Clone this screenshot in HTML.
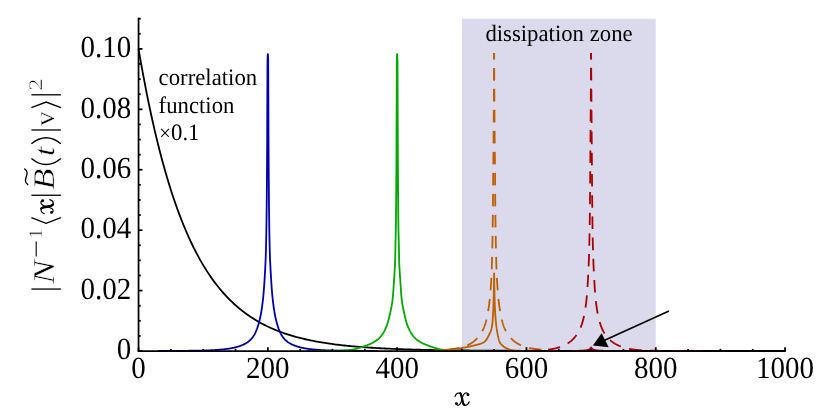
<!DOCTYPE html>
<html><head><meta charset="utf-8"><title>plot</title>
<style>
html,body{margin:0;padding:0;background:#fff;}
svg{display:block;will-change:transform;}
text{font-family:"Liberation Serif",serif;fill:#000;text-rendering:geometricPrecision;}
</style></head>
<body>
<svg width="831" height="416" viewBox="0 0 831 416">
<defs><g id="cmx" fill="none" stroke="#000" stroke-linecap="round" stroke-linejoin="round">
<path d="M0.4,-9.1 C1.2,-12.6 4.9,-13.9 6.4,-10.6 C7.2,-8.2 7.6,-4.6 8.3,-2.3 C9.2,0.7 12.9,0.7 14.5,-3.7" stroke-width="1.15"/>
<path d="M5.6,-12.3 C6.6,-11.3 7.2,-8.2 7.6,-5.6 C7.9,-3.6 8.2,-1.6 9.6,-0.6" stroke-width="2.3"/>
<path d="M1.5,-1.5 C3.0,0.9 5.5,-0.3 6.6,-4.0 L8.0,-8.8 C9.0,-12.6 12.0,-13.8 13.5,-11.2" stroke-width="1.1"/>
<circle cx="1.7" cy="-1.9" r="1.45" fill="#000" stroke="none"/>
<circle cx="13.3" cy="-10.8" r="1.45" fill="#000" stroke="none"/>
</g></defs>
<rect x="0" y="0" width="831" height="416" fill="#ffffff"/>
<rect x="462" y="18.8" width="193.7" height="332.2" fill="#dadaec"/>
<g fill="none" stroke-linejoin="round" stroke-linecap="butt">
<polyline points="138.55,48.90 140.17,58.28 141.79,67.36 143.41,76.16 145.03,84.69 146.65,92.96 148.27,100.96 149.89,108.72 151.51,116.24 153.13,123.53 154.75,130.59 156.37,137.43 157.99,144.05 159.61,150.48 161.23,156.70 162.85,162.73 164.47,168.57 166.10,174.23 167.72,179.72 169.34,185.04 170.96,190.19 172.58,195.18 174.20,200.01 175.82,204.70 177.44,209.24 179.06,213.64 180.68,217.90 182.30,222.03 183.92,226.03 185.54,229.91 187.16,233.67 188.78,237.31 190.40,240.84 192.02,244.26 193.64,247.57 195.26,250.78 196.88,253.89 198.50,256.90 200.12,259.82 201.74,262.65 203.36,265.39 204.98,268.05 206.60,270.63 208.22,273.12 209.84,275.54 211.46,277.88 213.08,280.15 214.70,282.35 216.32,284.48 217.94,286.54 219.57,288.54 221.19,290.48 222.81,292.36 224.43,294.18 226.05,295.94 227.67,297.65 229.29,299.31 230.91,300.91 232.53,302.46 234.15,303.97 235.77,305.43 237.39,306.84 239.01,308.22 240.63,309.54 242.25,310.83 243.87,312.08 245.49,313.28 247.11,314.45 248.73,315.59 250.35,316.69 251.97,317.75 253.59,318.78 255.21,319.78 256.83,320.75 258.45,321.69 260.07,322.60 261.69,323.48 263.31,324.34 264.93,325.16 266.55,325.97 268.17,326.74 269.79,327.50 271.41,328.22 273.03,328.93 274.66,329.62 276.28,330.28 277.90,330.92 279.52,331.55 281.14,332.15 282.76,332.73 284.38,333.30 286.00,333.85 287.62,334.38 289.24,334.90 290.86,335.40 292.48,335.88 294.10,336.35 295.72,336.81 297.34,337.25 298.96,337.67 300.58,338.09 302.20,338.49 303.82,338.88 305.44,339.25 307.06,339.62 308.68,339.97 310.30,340.31 311.92,340.64 313.54,340.97 315.16,341.28 316.78,341.58 318.40,341.87 320.02,342.15 321.64,342.43 323.26,342.69 324.88,342.95 326.50,343.20 328.13,343.44 329.75,343.68 331.37,343.91 332.99,344.13 334.61,344.34 336.23,344.55 337.85,344.75 339.47,344.94 341.09,345.13 342.71,345.31 344.33,345.49 345.95,345.66 347.57,345.82 349.19,345.98 350.81,346.14 352.43,346.29 354.05,346.44 355.67,346.58 357.29,346.72 358.91,346.85 360.53,346.98 362.15,347.10 363.77,347.22 365.39,347.34 367.01,347.45 368.63,347.56 370.25,347.67 371.87,347.77 373.49,347.87 375.11,347.97 376.73,348.07 378.35,348.16 379.97,348.24 381.60,348.33 383.22,348.41 384.84,348.49 386.46,348.57 388.08,348.65 389.70,348.72 391.32,348.79 392.94,348.86 394.56,348.93 396.18,348.99 397.80,349.05 399.42,349.11 401.04,349.17 402.66,349.23 404.28,349.28 405.90,349.34 407.52,349.39 409.14,349.44 410.76,349.49 412.38,349.53 414.00,349.58 415.62,349.62 417.24,349.67 418.86,349.71 420.48,349.75 422.10,349.79 423.72,349.82 425.34,349.86 426.96,349.90 428.58,349.93 430.20,349.96 431.82,350.00 433.44,350.03 435.07,350.06 436.69,350.09 438.31,350.11 439.93,350.14 441.55,350.17 443.17,350.19 444.79,350.22 446.41,350.24 448.03,350.27 449.65,350.29 451.27,350.31 452.89,350.33 454.51,350.35 456.13,350.37 457.75,350.39 459.37,350.41 460.99,350.43 462.61,350.45 464.23,350.47 465.85,350.48 467.47,350.50 469.09,350.51 470.71,350.53 472.33,350.54 473.95,350.56 475.57,350.57 477.19,350.58 478.81,350.60 480.43,350.61 482.05,350.62 483.67,350.63 485.29,350.65 486.91,350.66 488.53,350.67 490.16,350.68 491.78,350.69 493.40,350.70 495.02,350.71 496.64,350.72 498.26,350.72 499.88,350.73 501.50,350.74 503.12,350.75 504.74,350.76 506.36,350.76 507.98,350.77 509.60,350.78 511.22,350.79 512.84,350.79 514.46,350.80 516.08,350.80 517.70,350.81 519.32,350.82 520.94,350.82 522.56,350.83 524.18,350.83 525.80,350.84 527.42,350.84 529.04,350.85 530.66,350.85 532.28,350.86 533.90,350.86 535.52,350.87 537.14,350.87 538.76,350.87 540.38,350.88 542.00,350.88 543.63,350.89 545.25,350.89 546.87,350.89 548.49,350.90 550.11,350.90 551.73,350.90 553.35,350.91 554.97,350.91 556.59,350.91 558.21,350.91 559.83,350.92 561.45,350.92 563.07,350.92 564.69,350.92 566.31,350.93 567.93,350.93 569.55,350.93 571.17,350.93 572.79,350.94 574.41,350.94 576.03,350.94 577.65,350.94 579.27,350.94 580.89,350.94 582.51,350.95 584.13,350.95 585.75,350.95 587.37,350.95 588.99,350.95 590.61,350.95 592.23,350.96 593.85,350.96 595.47,350.96 597.10,350.96 598.72,350.96 600.34,350.96 601.96,350.96 603.58,350.96 605.20,350.97 606.82,350.97 608.44,350.97 610.06,350.97 611.68,350.97 613.30,350.97 614.92,350.97 616.54,350.97 618.16,350.97 619.78,350.97 621.40,350.97 623.02,350.98 624.64,350.98 626.26,350.98 627.88,350.98 629.50,350.98 631.12,350.98 632.74,350.98 634.36,350.98 635.98,350.98 637.60,350.98 639.22,350.98 640.84,350.98 642.46,350.98 644.08,350.98 645.70,350.98 647.32,350.98 648.94,350.99 650.57,350.99 652.19,350.99 653.81,350.99 655.43,350.99 657.05,350.99 658.67,350.99 660.29,350.99 661.91,350.99 663.53,350.99 665.15,350.99 666.77,350.99 668.39,350.99 670.01,350.99 671.63,350.99 673.25,350.99 674.87,350.99 676.49,350.99 678.11,350.99 679.73,350.99 681.35,350.99 682.97,350.99 684.59,350.99 686.21,350.99 687.83,350.99 689.45,350.99 691.07,350.99 692.69,350.99 694.31,350.99 695.93,350.99 697.55,350.99 699.17,350.99 700.79,350.99 702.41,350.99 704.03,350.99 705.66,351.00 707.28,351.00 708.90,351.00 710.52,351.00 712.14,351.00 713.76,351.00 715.38,351.00 717.00,351.00 718.62,351.00 720.24,351.00 721.86,351.00 723.48,351.00 725.10,351.00 726.72,351.00 728.34,351.00 729.96,351.00 731.58,351.00 733.20,351.00 734.82,351.00 736.44,351.00 738.06,351.00 739.68,351.00 741.30,351.00 742.92,351.00 744.54,351.00 746.16,351.00 747.78,351.00 749.40,351.00 751.02,351.00 752.64,351.00 754.26,351.00 755.88,351.00 757.50,351.00 759.13,351.00 760.75,351.00 762.37,351.00 763.99,351.00 765.61,351.00 767.23,351.00 768.85,351.00 770.47,351.00 772.09,351.00 773.71,351.00 775.33,351.00 776.95,351.00 778.57,351.00 780.19,351.00 781.81,351.00 783.43,351.00 785.05,351.00" stroke="#000" stroke-width="1.8"/>
<polyline points="157.85,350.94 158.34,350.94 158.83,350.94 159.32,350.94 159.82,350.94 160.31,350.93 160.80,350.93 161.29,350.93 161.78,350.93 162.27,350.93 162.76,350.93 163.26,350.93 163.75,350.92 164.24,350.92 164.73,350.92 165.22,350.92 165.71,350.92 166.20,350.92 166.70,350.92 167.19,350.91 167.68,350.91 168.17,350.91 168.66,350.91 169.15,350.91 169.64,350.90 170.14,350.90 170.63,350.90 171.12,350.90 171.61,350.90 172.10,350.89 172.59,350.89 173.09,350.89 173.58,350.89 174.07,350.88 174.56,350.88 175.05,350.88 175.54,350.88 176.03,350.87 176.53,350.87 177.02,350.87 177.51,350.87 178.00,350.86 178.49,350.86 178.98,350.86 179.47,350.85 179.97,350.85 180.46,350.85 180.95,350.84 181.44,350.84 181.93,350.84 182.42,350.83 182.91,350.83 183.41,350.82 183.90,350.82 184.39,350.81 184.88,350.81 185.37,350.81 185.86,350.80 186.35,350.80 186.85,350.79 187.34,350.79 187.83,350.78 188.32,350.78 188.81,350.77 189.30,350.76 189.79,350.76 190.29,350.75 190.78,350.75 191.27,350.74 191.76,350.73 192.25,350.73 192.74,350.72 193.23,350.71 193.73,350.71 194.22,350.70 194.71,350.69 195.20,350.68 195.69,350.68 196.18,350.67 196.68,350.66 197.17,350.65 197.66,350.64 198.15,350.63 198.64,350.62 199.13,350.61 199.62,350.60 200.12,350.59 200.61,350.58 201.10,350.57 201.59,350.56 202.08,350.54 202.57,350.53 203.06,350.52 203.56,350.51 204.05,350.49 204.54,350.48 205.03,350.46 205.52,350.45 206.01,350.43 206.50,350.41 207.00,350.40 207.49,350.38 207.98,350.36 208.47,350.34 208.96,350.32 209.45,350.30 209.94,350.28 210.44,350.26 210.93,350.24 211.42,350.21 211.91,350.19 212.40,350.16 212.89,350.14 213.38,350.11 213.88,350.08 214.37,350.06 214.86,350.03 215.35,350.00 215.84,349.96 216.33,349.93 216.82,349.90 217.32,349.86 217.81,349.83 218.30,349.79 218.79,349.75 219.28,349.71 219.77,349.67 220.27,349.63 220.76,349.59 221.25,349.55 221.74,349.50 222.23,349.45 222.72,349.40 223.21,349.35 223.71,349.30 224.20,349.25 224.69,349.19 225.18,349.14 225.67,349.08 226.16,349.02 226.65,348.95 227.15,348.89 227.64,348.82 228.13,348.75 228.62,348.68 229.11,348.60 229.60,348.52 230.09,348.44 230.59,348.36 231.08,348.27 231.57,348.18 232.06,348.09 232.55,347.99 233.04,347.89 233.53,347.79 234.03,347.68 234.52,347.57 235.01,347.45 235.50,347.33 235.99,347.20 236.48,347.07 236.97,346.93 237.47,346.79 237.96,346.64 238.45,346.49 238.94,346.33 239.43,346.16 239.92,345.99 240.41,345.81 240.91,345.62 241.40,345.43 241.89,345.23 242.38,345.02 242.87,344.81 243.36,344.59 243.86,344.35 244.35,344.11 244.84,343.86 245.33,343.59 245.82,343.31 246.31,343.02 246.80,342.71 247.30,342.39 247.79,342.05 248.28,341.69 248.77,341.31 249.26,340.90 249.75,340.48 250.24,340.02 250.74,339.54 251.23,339.02 251.72,338.47 252.21,337.87 252.70,337.23 253.19,336.54 253.68,335.79 254.18,334.98 254.67,334.10 255.16,333.15 255.65,332.12 255.85,331.68 255.95,331.45 256.05,331.22 256.15,330.99 256.25,330.75 256.35,330.51 256.45,330.27 256.55,330.02 256.65,329.77 256.75,329.51 256.85,329.25 256.95,328.98 257.05,328.72 257.15,328.44 257.25,328.16 257.35,327.88 257.45,327.60 257.55,327.30 257.65,327.01 257.75,326.71 257.85,326.40 257.95,326.09 258.05,325.77 258.15,325.45 258.25,325.13 258.35,324.80 258.45,324.46 258.55,324.12 258.65,323.77 258.75,323.42 258.85,323.06 258.95,322.70 259.05,322.33 259.15,321.95 259.25,321.57 259.35,321.17 259.45,320.78 259.55,320.37 259.65,319.96 259.75,319.53 259.85,319.10 259.95,318.67 260.05,318.22 260.15,317.76 260.25,317.30 260.35,316.82 260.45,316.33 260.55,315.84 260.65,315.33 260.75,314.81 260.85,314.28 260.95,313.74 261.05,313.19 261.15,312.62 261.25,312.04 261.35,311.45 261.45,310.84 261.55,310.22 261.65,309.58 261.75,308.93 261.85,308.26 261.95,307.58 262.05,306.87 262.15,306.15 262.25,305.41 262.35,304.65 262.45,303.88 262.55,303.08 262.65,302.26 262.75,301.41 262.85,300.55 262.95,299.65 263.05,298.72 263.15,297.76 263.25,296.75 263.35,295.71 263.45,294.63 263.55,293.51 263.65,292.35 263.75,291.14 263.85,289.90 263.95,288.61 264.05,287.27 264.15,285.90 264.25,284.47 264.35,282.99 264.45,281.47 264.55,279.90 264.65,278.28 264.75,276.60 264.85,274.87 264.90,273.99 264.95,273.11 265.00,272.23 265.05,271.33 265.10,270.43 265.15,269.51 265.20,268.58 265.25,267.63 265.30,266.65 265.35,265.65 265.40,264.62 265.45,263.55 265.50,262.45 265.55,261.31 265.60,260.12 265.65,258.88 265.70,257.58 265.75,256.23 265.80,254.81 265.85,253.32 265.90,251.75 265.95,250.10 266.00,248.32 266.05,246.37 266.10,244.25 266.15,241.98 266.20,239.54 266.25,236.94 266.30,234.18 266.35,231.28 266.40,228.22 266.45,225.02 266.50,221.60 266.55,217.87 266.60,213.83 266.65,209.49 266.70,204.86 266.75,199.95 266.80,194.77 266.85,189.31 266.90,183.48 266.95,177.23 267.00,170.47 267.05,163.10 267.10,155.03 267.15,146.02 267.20,135.14 267.25,122.77 267.30,109.78 267.35,97.24 267.40,83.63 267.45,70.07 267.50,62.49 267.55,60.23 267.60,58.32 267.65,56.77 267.70,55.56 267.75,54.71 267.80,54.20 267.85,54.04 267.90,54.20 267.95,54.71 268.00,55.56 268.05,56.77 268.10,58.32 268.15,60.23 268.20,62.49 268.25,70.07 268.30,83.63 268.35,97.24 268.40,109.78 268.45,122.77 268.50,135.14 268.55,146.02 268.60,155.03 268.65,163.10 268.70,170.47 268.75,177.23 268.80,183.48 268.85,189.31 268.90,194.77 268.95,199.95 269.00,204.86 269.05,209.49 269.10,213.83 269.15,217.87 269.20,221.60 269.25,225.02 269.30,228.22 269.35,231.28 269.40,234.18 269.45,236.94 269.50,239.54 269.55,241.98 269.60,244.25 269.65,246.37 269.70,248.32 269.75,250.10 269.80,251.75 269.85,253.32 269.90,254.81 269.95,256.23 270.00,257.58 270.05,258.88 270.10,260.12 270.15,261.31 270.20,262.45 270.25,263.55 270.30,264.62 270.35,265.65 270.40,266.65 270.45,267.63 270.50,268.58 270.55,269.51 270.60,270.43 270.65,271.33 270.70,272.23 270.75,273.11 270.80,273.99 270.85,274.87 270.95,276.60 271.05,278.28 271.15,279.90 271.25,281.47 271.35,282.99 271.45,284.47 271.55,285.90 271.65,287.27 271.75,288.61 271.85,289.90 271.95,291.14 272.05,292.35 272.15,293.51 272.25,294.63 272.35,295.71 272.45,296.75 272.55,297.76 272.65,298.72 272.75,299.65 272.85,300.55 272.95,301.41 273.05,302.26 273.15,303.08 273.25,303.88 273.35,304.65 273.45,305.41 273.55,306.15 273.65,306.87 273.75,307.58 273.85,308.26 273.95,308.93 274.05,309.58 274.15,310.22 274.25,310.84 274.35,311.45 274.45,312.04 274.55,312.62 274.65,313.19 274.75,313.74 274.85,314.28 274.95,314.81 275.05,315.33 275.15,315.84 275.25,316.33 275.35,316.82 275.45,317.30 275.55,317.76 275.65,318.22 275.75,318.67 275.85,319.10 275.95,319.53 276.05,319.96 276.15,320.37 276.25,320.78 276.35,321.17 276.45,321.57 276.55,321.95 276.65,322.33 276.75,322.70 276.85,323.06 276.95,323.42 277.05,323.77 277.15,324.12 277.25,324.46 277.35,324.80 277.45,325.13 277.55,325.45 277.65,325.77 277.75,326.09 277.85,326.40 277.95,326.71 278.05,327.01 278.15,327.30 278.25,327.60 278.35,327.88 278.45,328.16 278.55,328.44 278.65,328.72 278.75,328.98 278.85,329.25 278.95,329.51 279.05,329.77 279.15,330.02 279.25,330.27 279.35,330.51 279.45,330.75 279.55,330.99 279.65,331.22 279.75,331.45 279.85,331.68 280.05,332.12 280.54,333.15 281.03,334.10 281.52,334.98 282.02,335.79 282.51,336.54 283.00,337.23 283.49,337.87 283.98,338.47 284.47,339.02 284.96,339.54 285.46,340.02 285.95,340.48 286.44,340.90 286.93,341.31 287.42,341.69 287.91,342.05 288.40,342.39 288.90,342.71 289.39,343.02 289.88,343.31 290.37,343.59 290.86,343.86 291.35,344.11 291.84,344.35 292.34,344.59 292.83,344.81 293.32,345.02 293.81,345.23 294.30,345.43 294.79,345.62 295.29,345.81 295.78,345.99 296.27,346.16 296.76,346.33 297.25,346.49 297.74,346.64 298.23,346.79 298.73,346.93 299.22,347.07 299.71,347.20 300.20,347.33 300.69,347.45 301.18,347.57 301.67,347.68 302.17,347.79 302.66,347.89 303.15,347.99 303.64,348.09 304.13,348.18 304.62,348.27 305.11,348.36 305.61,348.44 306.10,348.52 306.59,348.60 307.08,348.68 307.57,348.75 308.06,348.82 308.55,348.89 309.05,348.95 309.54,349.02 310.03,349.08 310.52,349.14 311.01,349.19 311.50,349.25 311.99,349.30 312.49,349.35 312.98,349.40 313.47,349.45 313.96,349.50 314.45,349.55 314.94,349.59 315.43,349.63 315.93,349.67 316.42,349.71 316.91,349.75 317.40,349.79 317.89,349.83 318.38,349.86 318.88,349.90 319.37,349.93 319.86,349.96 320.35,350.00 320.84,350.03 321.33,350.06 321.82,350.08 322.32,350.11 322.81,350.14 323.30,350.16 323.79,350.19 324.28,350.21 324.77,350.24 325.26,350.26 325.76,350.28 326.25,350.30 326.74,350.32 327.23,350.34 327.72,350.36 328.21,350.38 328.70,350.40 329.20,350.41 329.69,350.43 330.18,350.45 330.67,350.46 331.16,350.48 331.65,350.49 332.14,350.51 332.64,350.52 333.13,350.53 333.62,350.54 334.11,350.56 334.60,350.57 335.09,350.58 335.58,350.59 336.08,350.60 336.57,350.61 337.06,350.62 337.55,350.63 338.04,350.64 338.53,350.65 339.02,350.66 339.52,350.67 340.01,350.68 340.50,350.68 340.99,350.69 341.48,350.70 341.97,350.71 342.47,350.71 342.96,350.72 343.45,350.73 343.94,350.73 344.43,350.74 344.92,350.75 345.41,350.75 345.91,350.76 346.40,350.76 346.89,350.77 347.38,350.78 347.87,350.78 348.36,350.79 348.85,350.79 349.35,350.80 349.84,350.80 350.33,350.81 350.82,350.81 351.31,350.81 351.80,350.82 352.29,350.82 352.79,350.83 353.28,350.83 353.77,350.84 354.26,350.84 354.75,350.84 355.24,350.85 355.73,350.85 356.23,350.85 356.72,350.86 357.21,350.86 357.70,350.86 358.19,350.87 358.68,350.87 359.17,350.87 359.67,350.87 360.16,350.88 360.65,350.88 361.14,350.88 361.63,350.88 362.12,350.89 362.61,350.89 363.11,350.89 363.60,350.89 364.09,350.90 364.58,350.90 365.07,350.90 365.56,350.90 366.06,350.90 366.55,350.91 367.04,350.91 367.53,350.91 368.02,350.91 368.51,350.91 369.00,350.92 369.50,350.92 369.99,350.92 370.48,350.92 370.97,350.92 371.46,350.92 371.95,350.92 372.44,350.93 372.94,350.93 373.43,350.93 373.92,350.93 374.41,350.93 374.90,350.93 375.39,350.93 375.88,350.94 376.38,350.94 376.87,350.94 377.36,350.94 377.85,350.94" stroke="#0000aa" stroke-width="1.8"/>
<polyline points="307.15,350.97 307.54,350.97 307.93,350.97 308.32,350.97 308.71,350.97 309.10,350.97 309.50,350.96 309.89,350.96 310.28,350.96 310.67,350.96 311.06,350.96 311.45,350.96 311.84,350.96 312.23,350.96 312.62,350.96 313.01,350.96 313.41,350.95 313.80,350.95 314.19,350.95 314.58,350.95 314.97,350.95 315.36,350.95 315.75,350.95 316.14,350.94 316.53,350.94 316.92,350.94 317.31,350.94 317.71,350.94 318.10,350.94 318.49,350.93 318.88,350.93 319.27,350.93 319.66,350.93 320.05,350.93 320.44,350.92 320.83,350.92 321.22,350.92 321.62,350.92 322.01,350.91 322.40,350.91 322.79,350.91 323.18,350.91 323.57,350.90 323.96,350.90 324.35,350.90 324.74,350.89 325.13,350.89 325.52,350.89 325.92,350.88 326.31,350.88 326.70,350.88 327.09,350.87 327.48,350.87 327.87,350.86 328.26,350.86 328.65,350.85 329.04,350.85 329.43,350.84 329.83,350.84 330.22,350.83 330.61,350.83 331.00,350.82 331.39,350.82 331.78,350.81 332.17,350.80 332.56,350.80 332.95,350.79 333.34,350.78 333.73,350.78 334.13,350.77 334.52,350.76 334.91,350.75 335.30,350.74 335.69,350.73 336.08,350.72 336.47,350.72 336.86,350.71 337.25,350.70 337.64,350.68 338.04,350.67 338.43,350.66 338.82,350.65 339.21,350.64 339.60,350.62 339.99,350.61 340.38,350.59 340.77,350.58 341.16,350.56 341.55,350.55 341.94,350.53 342.34,350.51 342.73,350.49 343.12,350.47 343.51,350.45 343.90,350.43 344.29,350.41 344.68,350.38 345.07,350.36 345.46,350.33 345.85,350.31 346.25,350.28 346.64,350.25 347.03,350.22 347.42,350.19 347.81,350.15 348.20,350.12 348.59,350.08 348.98,350.04 349.37,350.00 349.76,349.96 350.16,349.91 350.55,349.87 350.94,349.82 351.33,349.77 351.72,349.71 352.11,349.66 352.50,349.59 352.89,349.53 353.28,349.46 353.67,349.38 354.06,349.30 354.46,349.22 354.85,349.13 355.24,349.04 355.63,348.95 356.02,348.85 356.41,348.75 356.80,348.65 357.19,348.54 357.58,348.44 357.97,348.33 358.37,348.22 358.76,348.11 359.15,348.00 359.54,347.88 359.93,347.76 360.32,347.63 360.71,347.50 361.10,347.37 361.49,347.24 361.88,347.10 362.27,346.97 362.67,346.82 363.06,346.68 363.45,346.54 363.84,346.39 364.23,346.24 364.62,346.10 365.01,345.95 365.40,345.80 365.79,345.65 366.18,345.50 366.58,345.36 366.97,345.21 367.36,345.06 367.75,344.92 368.14,344.77 368.53,344.62 368.92,344.47 369.31,344.32 369.70,344.16 370.09,344.01 370.48,343.85 370.88,343.68 371.27,343.51 371.66,343.33 372.05,343.15 372.44,342.95 372.83,342.75 373.22,342.54 373.61,342.32 374.00,342.09 374.39,341.85 374.79,341.61 375.18,341.36 375.57,341.10 375.96,340.83 376.35,340.55 376.74,340.26 377.13,339.96 377.52,339.65 377.91,339.33 378.30,338.99 378.69,338.64 379.09,338.27 379.48,337.89 379.87,337.48 380.26,337.06 380.65,336.61 381.04,336.15 381.43,335.65 381.82,335.14 382.21,334.59 382.60,334.02 383.00,333.41 383.39,332.77 383.78,332.10 384.17,331.39 384.56,330.64 384.95,329.85 385.15,329.43 385.25,329.21 385.35,328.99 385.45,328.77 385.55,328.55 385.65,328.32 385.75,328.09 385.85,327.85 385.95,327.62 386.05,327.38 386.15,327.13 386.25,326.88 386.35,326.63 386.45,326.38 386.55,326.12 386.65,325.86 386.75,325.59 386.85,325.32 386.95,325.05 387.05,324.77 387.15,324.49 387.25,324.20 387.35,323.91 387.45,323.61 387.55,323.31 387.65,323.00 387.75,322.68 387.85,322.35 387.95,322.02 388.05,321.68 388.15,321.33 388.25,320.98 388.35,320.61 388.45,320.25 388.55,319.87 388.65,319.49 388.75,319.10 388.85,318.71 388.95,318.31 389.05,317.90 389.15,317.49 389.25,317.07 389.35,316.65 389.45,316.22 389.55,315.78 389.65,315.34 389.75,314.90 389.85,314.45 389.95,313.99 390.05,313.53 390.15,313.06 390.25,312.59 390.35,312.12 390.45,311.65 390.55,311.18 390.65,310.71 390.75,310.25 390.85,309.78 390.95,309.31 391.05,308.84 391.15,308.37 391.25,307.88 391.35,307.39 391.45,306.88 391.55,306.36 391.65,305.83 391.75,305.27 391.85,304.70 391.95,304.09 392.05,303.47 392.15,302.81 392.25,302.12 392.35,301.39 392.45,300.63 392.55,299.82 392.65,298.93 392.75,297.96 392.85,296.92 392.95,295.80 393.05,294.61 393.15,293.35 393.25,292.03 393.35,290.66 393.45,289.23 393.55,287.76 393.65,286.25 393.75,284.71 393.85,283.15 393.95,281.58 394.05,280.01 394.15,278.49 394.20,277.76 394.25,277.04 394.30,276.34 394.35,275.64 394.40,274.94 394.45,274.23 394.50,273.51 394.55,272.78 394.60,272.02 394.65,271.23 394.70,270.40 394.75,269.53 394.80,268.61 394.85,267.64 394.90,266.59 394.95,265.47 395.00,264.27 395.05,262.98 395.10,261.58 395.15,260.07 395.20,258.08 395.25,255.49 395.30,252.69 395.35,250.10 395.40,247.84 395.45,245.73 395.50,243.72 395.55,241.77 395.60,239.82 395.65,237.83 395.70,235.73 395.75,233.47 395.80,230.98 395.85,228.19 395.90,225.02 395.95,221.23 396.00,216.69 396.05,211.53 396.10,205.89 396.15,199.95 396.20,193.71 396.25,186.99 396.30,179.74 396.35,171.86 396.40,163.26 396.45,153.83 396.50,143.22 396.55,130.69 396.60,116.86 396.65,102.72 396.70,88.13 396.75,71.89 396.80,62.49 396.85,60.17 396.90,58.23 396.95,56.68 397.00,55.50 397.05,54.68 397.10,54.19 397.15,54.04 397.20,54.19 397.25,54.68 397.30,55.50 397.35,56.68 397.40,58.23 397.45,60.17 397.50,62.49 397.55,71.89 397.60,88.13 397.65,102.72 397.70,116.86 397.75,130.69 397.80,143.22 397.85,153.83 397.90,163.26 397.95,171.86 398.00,179.74 398.05,186.99 398.10,193.71 398.15,199.95 398.20,205.89 398.25,211.53 398.30,216.69 398.35,221.23 398.40,225.02 398.45,228.19 398.50,230.98 398.55,233.47 398.60,235.73 398.65,237.83 398.70,239.82 398.75,241.77 398.80,243.72 398.85,245.73 398.90,247.84 398.95,250.10 399.00,252.69 399.05,255.49 399.10,258.08 399.15,260.07 399.20,261.58 399.25,262.98 399.30,264.27 399.35,265.47 399.40,266.59 399.45,267.64 399.50,268.61 399.55,269.53 399.60,270.40 399.65,271.23 399.70,272.02 399.75,272.78 399.80,273.51 399.85,274.23 399.90,274.94 399.95,275.64 400.00,276.34 400.05,277.04 400.10,277.76 400.15,278.49 400.25,280.01 400.35,281.58 400.45,283.15 400.55,284.71 400.65,286.25 400.75,287.76 400.85,289.23 400.95,290.66 401.05,292.03 401.15,293.35 401.25,294.61 401.35,295.80 401.45,296.92 401.55,297.96 401.65,298.93 401.75,299.82 401.85,300.63 401.95,301.39 402.05,302.12 402.15,302.81 402.25,303.47 402.35,304.09 402.45,304.70 402.55,305.27 402.65,305.83 402.75,306.36 402.85,306.88 402.95,307.39 403.05,307.88 403.15,308.37 403.25,308.84 403.35,309.31 403.45,309.78 403.55,310.25 403.65,310.71 403.75,311.18 403.85,311.65 403.95,312.12 404.05,312.59 404.15,313.06 404.25,313.53 404.35,313.99 404.45,314.45 404.55,314.90 404.65,315.34 404.75,315.78 404.85,316.22 404.95,316.65 405.05,317.07 405.15,317.49 405.25,317.90 405.35,318.31 405.45,318.71 405.55,319.10 405.65,319.49 405.75,319.87 405.85,320.25 405.95,320.61 406.05,320.98 406.15,321.33 406.25,321.68 406.35,322.02 406.45,322.35 406.55,322.68 406.65,323.00 406.75,323.31 406.85,323.61 406.95,323.91 407.05,324.20 407.15,324.49 407.25,324.77 407.35,325.05 407.45,325.32 407.55,325.59 407.65,325.86 407.75,326.12 407.85,326.38 407.95,326.63 408.05,326.88 408.15,327.13 408.25,327.38 408.35,327.62 408.45,327.85 408.55,328.09 408.65,328.32 408.75,328.55 408.85,328.77 408.95,328.99 409.05,329.21 409.15,329.43 409.35,329.85 409.74,330.64 410.13,331.39 410.52,332.10 410.91,332.77 411.30,333.41 411.70,334.02 412.09,334.59 412.48,335.14 412.87,335.65 413.26,336.15 413.65,336.61 414.04,337.06 414.43,337.48 414.82,337.89 415.21,338.27 415.61,338.64 416.00,338.99 416.39,339.33 416.78,339.65 417.17,339.96 417.56,340.26 417.95,340.55 418.34,340.83 418.73,341.10 419.12,341.36 419.51,341.61 419.91,341.85 420.30,342.09 420.69,342.32 421.08,342.54 421.47,342.75 421.86,342.95 422.25,343.15 422.64,343.33 423.03,343.51 423.42,343.68 423.82,343.85 424.21,344.01 424.60,344.16 424.99,344.32 425.38,344.47 425.77,344.62 426.16,344.77 426.55,344.92 426.94,345.06 427.33,345.21 427.72,345.36 428.12,345.50 428.51,345.65 428.90,345.80 429.29,345.95 429.68,346.10 430.07,346.24 430.46,346.39 430.85,346.54 431.24,346.68 431.63,346.82 432.03,346.97 432.42,347.10 432.81,347.24 433.20,347.37 433.59,347.50 433.98,347.63 434.37,347.76 434.76,347.88 435.15,348.00 435.54,348.11 435.93,348.22 436.33,348.33 436.72,348.44 437.11,348.54 437.50,348.65 437.89,348.75 438.28,348.85 438.67,348.95 439.06,349.04 439.45,349.13 439.84,349.22 440.24,349.30 440.63,349.38 441.02,349.46 441.41,349.53 441.80,349.59 442.19,349.66 442.58,349.71 442.97,349.77 443.36,349.82 443.75,349.87 444.14,349.91 444.54,349.96 444.93,350.00 445.32,350.04 445.71,350.08 446.10,350.12 446.49,350.15 446.88,350.19 447.27,350.22 447.66,350.25 448.05,350.28 448.45,350.31 448.84,350.33 449.23,350.36 449.62,350.38 450.01,350.41 450.40,350.43 450.79,350.45 451.18,350.47 451.57,350.49 451.96,350.51 452.36,350.53 452.75,350.55 453.14,350.56 453.53,350.58 453.92,350.59 454.31,350.61 454.70,350.62 455.09,350.64 455.48,350.65 455.87,350.66 456.26,350.67 456.66,350.68 457.05,350.70 457.44,350.71 457.83,350.72 458.22,350.72 458.61,350.73 459.00,350.74 459.39,350.75 459.78,350.76 460.17,350.77 460.57,350.78 460.96,350.78 461.35,350.79 461.74,350.80 462.13,350.80 462.52,350.81 462.91,350.82 463.30,350.82 463.69,350.83 464.08,350.83 464.47,350.84 464.87,350.84 465.26,350.85 465.65,350.85 466.04,350.86 466.43,350.86 466.82,350.87 467.21,350.87 467.60,350.88 467.99,350.88 468.38,350.88 468.78,350.89 469.17,350.89 469.56,350.89 469.95,350.90 470.34,350.90 470.73,350.90 471.12,350.91 471.51,350.91 471.90,350.91 472.29,350.91 472.68,350.92 473.08,350.92 473.47,350.92 473.86,350.92 474.25,350.93 474.64,350.93 475.03,350.93 475.42,350.93 475.81,350.93 476.20,350.94 476.59,350.94 476.99,350.94 477.38,350.94 477.77,350.94 478.16,350.94 478.55,350.95 478.94,350.95 479.33,350.95 479.72,350.95 480.11,350.95 480.50,350.95 480.89,350.95 481.29,350.96 481.68,350.96 482.07,350.96 482.46,350.96 482.85,350.96 483.24,350.96 483.63,350.96 484.02,350.96 484.41,350.96 484.80,350.96 485.20,350.97 485.59,350.97 485.98,350.97 486.37,350.97 486.76,350.97 487.15,350.97" stroke="#00aa00" stroke-width="1.8"/>
<polyline points="494.12,52.98 494.07,63.15 494.02,72.75 493.98,81.82 493.93,90.39 493.88,98.49 493.82,106.16 493.77,113.43 493.73,120.31 493.68,126.84 493.62,133.03 493.57,138.91 493.52,144.49 493.48,149.80 493.43,154.48 493.38,158.49 493.32,162.25 493.27,166.14 493.23,170.55 493.18,175.78 493.12,183.40 493.07,192.47 493.02,199.95 492.98,205.35 492.93,210.05 492.88,214.21 492.82,218.00 492.77,221.57 492.73,225.02 492.68,228.39 492.62,231.61 492.57,234.67 492.52,237.58 492.48,240.36 492.43,242.99 492.38,245.49 492.32,247.86 492.27,250.10 492.23,252.24 492.18,254.32 492.12,256.33 492.07,258.26 492.02,260.13 491.98,261.93 491.93,263.66 491.88,265.31 491.82,266.89 491.77,268.40 491.73,269.84 491.68,271.21 491.62,272.50 491.57,273.72 491.52,274.87 491.48,275.95 491.43,276.96 491.38,277.91 491.32,278.81 491.27,279.68 491.23,280.51 491.18,281.31 491.12,282.09 491.02,283.63 490.93,285.14 490.82,286.61 490.73,288.03 490.62,289.40 490.52,290.74 490.43,292.02 490.32,293.26 490.23,294.44 490.12,295.59 490.02,296.68 489.93,297.72 489.82,298.71 489.73,299.66 489.62,300.55 489.52,301.41 489.43,302.24 489.32,303.06 489.23,303.85 489.12,304.62 489.02,305.37 488.93,306.11 488.82,306.82 488.73,307.52 488.62,308.20 488.52,308.86 488.43,309.51 488.32,310.14 488.23,310.76 488.12,311.36 488.02,311.94 487.93,312.52 487.82,313.08 487.73,313.62 487.62,314.16 487.52,314.68 487.43,315.19 487.32,315.69 487.23,316.17 487.12,316.65 487.02,317.11 486.93,317.57 486.82,318.01 486.73,318.45 486.62,318.87 486.52,319.29 486.43,319.70 486.32,320.10 486.23,320.49 486.12,320.87 486.02,321.24 485.93,321.61 485.82,321.97 485.73,322.32 485.62,322.67 485.52,323.01 485.43,323.34 485.32,323.66 485.23,323.98 485.12,324.30 485.02,324.60 484.93,324.90 484.82,325.20 484.73,325.49 484.62,325.77 484.52,326.05 484.43,326.33 484.32,326.60 484.23,326.86 484.12,327.12 484.02,327.37 483.93,327.62 483.82,327.87 483.73,328.11 483.62,328.34 483.52,328.58 483.43,328.80 483.32,329.03 483.23,329.25 483.12,329.46 483.02,329.68 482.93,329.88 482.82,330.09 482.73,330.29 482.62,330.49 482.52,330.69 482.43,330.88 482.32,331.07 482.23,331.26 482.12,331.44 481.93,331.80 481.68,332.22 481.44,332.62 481.20,333.01 480.96,333.39 480.72,333.76 480.48,334.12 480.24,334.46 480.00,334.80 479.76,335.13 479.52,335.45 479.28,335.76 479.04,336.07 478.80,336.37 478.56,336.66 478.32,336.95 478.08,337.23 477.84,337.51 477.60,337.78 477.36,338.05 477.12,338.32 476.88,338.58 476.64,338.83 476.40,339.08 476.16,339.32 475.92,339.56 475.68,339.79 475.44,340.02 475.20,340.24 474.96,340.45 474.72,340.66 474.48,340.87 474.24,341.07 474.00,341.27 473.76,341.46 473.52,341.65 473.28,341.84 473.04,342.02 472.80,342.19 472.56,342.36 472.32,342.53 472.08,342.70 471.84,342.86 471.60,343.01 471.36,343.17 471.12,343.32 470.88,343.47 470.64,343.61 470.40,343.75 470.16,343.89 469.91,344.03 469.67,344.16 469.43,344.29 469.19,344.41 468.95,344.54 468.71,344.66 468.47,344.78 468.23,344.90 467.99,345.01 467.75,345.12 467.51,345.23 467.27,345.34 467.03,345.44 466.79,345.55 466.55,345.65 466.31,345.74 466.07,345.84 465.83,345.94 465.59,346.03 465.35,346.12 465.11,346.21 464.87,346.29 464.63,346.38 464.39,346.46 464.15,346.54 463.91,346.62 463.67,346.69 463.43,346.77 463.19,346.84 462.95,346.91 462.71,346.98 462.47,347.05 462.23,347.12 461.99,347.18 461.75,347.25 461.51,347.31 461.27,347.37 461.03,347.43 460.79,347.49 460.55,347.55 460.31,347.60 460.07,347.66 459.83,347.72 459.59,347.77 459.35,347.82 459.11,347.87 458.87,347.93 458.63,347.98 458.39,348.03 458.15,348.07 457.90,348.12 457.66,348.17 457.42,348.21 457.18,348.26 456.94,348.31 456.70,348.35 456.46,348.39 456.22,348.44 455.98,348.48 455.74,348.52 455.50,348.56 455.26,348.60 455.02,348.64 454.78,348.68 454.54,348.72 454.30,348.76 454.06,348.80 453.82,348.84 453.58,348.87 453.34,348.91 453.10,348.95 452.86,348.98 452.62,349.02 452.38,349.05 452.14,349.09 451.90,349.12 451.66,349.15 451.42,349.19 451.18,349.22 450.94,349.25 450.70,349.29 450.46,349.32 450.22,349.35 449.98,349.38 449.74,349.41 449.50,349.44 449.26,349.47 449.02,349.50 448.78,349.53 448.54,349.56 448.30,349.59 448.06,349.62 447.82,349.65 447.58,349.67 447.34,349.70 447.10,349.73 446.86,349.75 446.62,349.78 446.38,349.80 446.14,349.83 445.89,349.85 445.65,349.88 445.41,349.90 445.17,349.93 444.93,349.95 444.69,349.97 444.45,349.99 444.21,350.01 443.97,350.04 443.73,350.06 443.49,350.08 443.25,350.10 443.01,350.12 442.77,350.14 442.53,350.16 442.29,350.18 442.05,350.19 441.81,350.21 441.57,350.23 441.33,350.25 441.09,350.27 440.85,350.28 440.61,350.30 440.37,350.31 440.13,350.33 439.89,350.35 439.65,350.36 439.41,350.38 439.17,350.39 438.93,350.41 438.69,350.42 438.45,350.43 438.21,350.45 437.97,350.46 437.73,350.47 437.49,350.49 437.25,350.50 437.01,350.51 436.77,350.52 436.53,350.53 436.29,350.55 436.05,350.56 435.81,350.57 435.57,350.58 435.33,350.59 435.09,350.60 434.85,350.61 434.61,350.62 434.37,350.63 434.12,350.64" stroke="#bf5f00" stroke-width="1.8" stroke-dasharray="12.5,8.5" stroke-dashoffset="6.1"/>
<polyline points="494.12,52.98 494.18,63.15 494.23,72.75 494.27,81.82 494.32,90.39 494.38,98.49 494.43,106.16 494.48,113.43 494.52,120.31 494.57,126.84 494.62,133.03 494.68,138.91 494.73,144.49 494.77,149.80 494.82,154.48 494.88,158.49 494.93,162.25 494.98,166.14 495.02,170.55 495.07,175.78 495.12,183.40 495.18,192.47 495.23,199.95 495.27,205.35 495.32,210.05 495.38,214.21 495.43,218.00 495.48,221.57 495.52,225.02 495.57,228.39 495.62,231.61 495.68,234.67 495.73,237.58 495.77,240.36 495.82,242.99 495.88,245.49 495.93,247.86 495.98,250.10 496.02,252.24 496.07,254.32 496.12,256.33 496.18,258.26 496.23,260.13 496.27,261.93 496.32,263.66 496.38,265.31 496.43,266.89 496.48,268.40 496.52,269.84 496.57,271.21 496.62,272.50 496.68,273.72 496.73,274.87 496.77,275.95 496.82,276.96 496.88,277.91 496.93,278.81 496.98,279.68 497.02,280.51 497.07,281.31 497.12,282.09 497.23,283.63 497.32,285.14 497.43,286.61 497.52,288.03 497.62,289.40 497.73,290.74 497.82,292.02 497.93,293.26 498.02,294.44 498.12,295.59 498.23,296.68 498.32,297.72 498.43,298.71 498.52,299.66 498.62,300.55 498.73,301.41 498.82,302.24 498.93,303.06 499.02,303.85 499.12,304.62 499.23,305.37 499.32,306.11 499.43,306.82 499.52,307.52 499.62,308.20 499.73,308.86 499.82,309.51 499.93,310.14 500.02,310.76 500.12,311.36 500.23,311.94 500.32,312.52 500.43,313.08 500.52,313.62 500.62,314.16 500.73,314.68 500.82,315.19 500.93,315.69 501.02,316.17 501.12,316.65 501.23,317.11 501.32,317.57 501.43,318.01 501.52,318.45 501.62,318.87 501.73,319.29 501.82,319.70 501.93,320.10 502.02,320.49 502.12,320.87 502.23,321.24 502.32,321.61 502.43,321.97 502.52,322.32 502.62,322.67 502.73,323.01 502.82,323.34 502.93,323.66 503.02,323.98 503.12,324.30 503.23,324.60 503.32,324.90 503.43,325.20 503.52,325.49 503.62,325.77 503.73,326.05 503.82,326.33 503.93,326.60 504.02,326.86 504.12,327.12 504.23,327.37 504.32,327.62 504.43,327.87 504.52,328.11 504.62,328.34 504.73,328.58 504.82,328.80 504.93,329.03 505.02,329.25 505.12,329.46 505.23,329.68 505.32,329.88 505.43,330.09 505.52,330.29 505.62,330.49 505.73,330.69 505.82,330.88 505.93,331.07 506.02,331.26 506.12,331.44 506.32,331.80 506.57,332.22 506.81,332.62 507.05,333.01 507.29,333.39 507.53,333.76 507.77,334.12 508.01,334.46 508.25,334.80 508.49,335.13 508.73,335.45 508.97,335.76 509.21,336.07 509.45,336.37 509.69,336.66 509.93,336.95 510.17,337.23 510.41,337.51 510.65,337.78 510.89,338.05 511.13,338.32 511.37,338.58 511.61,338.83 511.85,339.08 512.09,339.32 512.33,339.56 512.57,339.79 512.81,340.02 513.05,340.24 513.29,340.45 513.53,340.66 513.77,340.87 514.01,341.07 514.25,341.27 514.49,341.46 514.73,341.65 514.97,341.84 515.21,342.02 515.45,342.19 515.69,342.36 515.93,342.53 516.17,342.70 516.41,342.86 516.65,343.01 516.89,343.17 517.13,343.32 517.37,343.47 517.61,343.61 517.85,343.75 518.09,343.89 518.34,344.03 518.58,344.16 518.82,344.29 519.06,344.41 519.30,344.54 519.54,344.66 519.78,344.78 520.02,344.90 520.26,345.01 520.50,345.12 520.74,345.23 520.98,345.34 521.22,345.44 521.46,345.55 521.70,345.65 521.94,345.74 522.18,345.84 522.42,345.94 522.66,346.03 522.90,346.12 523.14,346.21 523.38,346.29 523.62,346.38 523.86,346.46 524.10,346.54 524.34,346.62 524.58,346.69 524.82,346.77 525.06,346.84 525.30,346.91 525.54,346.98 525.78,347.05 526.02,347.12 526.26,347.18 526.50,347.25 526.74,347.31 526.98,347.37 527.22,347.43 527.46,347.49 527.70,347.55 527.94,347.60 528.18,347.66 528.42,347.72 528.66,347.77 528.90,347.82 529.14,347.87 529.38,347.93 529.62,347.98 529.86,348.03 530.10,348.07 530.35,348.12 530.59,348.17 530.83,348.21 531.07,348.26 531.31,348.31 531.55,348.35 531.79,348.39 532.03,348.44 532.27,348.48 532.51,348.52 532.75,348.56 532.99,348.60 533.23,348.64 533.47,348.68 533.71,348.72 533.95,348.76 534.19,348.80 534.43,348.84 534.67,348.87 534.91,348.91 535.15,348.95 535.39,348.98 535.63,349.02 535.87,349.05 536.11,349.09 536.35,349.12 536.59,349.15 536.83,349.19 537.07,349.22 537.31,349.25 537.55,349.29 537.79,349.32 538.03,349.35 538.27,349.38 538.51,349.41 538.75,349.44 538.99,349.47 539.23,349.50 539.47,349.53 539.71,349.56 539.95,349.59 540.19,349.62 540.43,349.65 540.67,349.67 540.91,349.70 541.15,349.73 541.39,349.75 541.63,349.78 541.87,349.80 542.11,349.83 542.36,349.85 542.60,349.88 542.84,349.90 543.08,349.93 543.32,349.95 543.56,349.97 543.80,349.99 544.04,350.01 544.28,350.04 544.52,350.06 544.76,350.08 545.00,350.10 545.24,350.12 545.48,350.14 545.72,350.16 545.96,350.18 546.20,350.19 546.44,350.21 546.68,350.23 546.92,350.25 547.16,350.27 547.40,350.28 547.64,350.30 547.88,350.31 548.12,350.33 548.36,350.35 548.60,350.36 548.84,350.38 549.08,350.39 549.32,350.41 549.56,350.42 549.80,350.43 550.04,350.45 550.28,350.46 550.52,350.47 550.76,350.49 551.00,350.50 551.24,350.51 551.48,350.52 551.72,350.53 551.96,350.55 552.20,350.56 552.44,350.57 552.68,350.58 552.92,350.59 553.16,350.60 553.40,350.61 553.64,350.62 553.88,350.63 554.12,350.64" stroke="#bf5f00" stroke-width="1.8" stroke-dasharray="12.5,8.5" stroke-dashoffset="6.1"/>
<polyline points="440.12,350.55 440.34,350.53 440.55,350.52 440.76,350.51 440.97,350.50 441.18,350.48 441.39,350.47 441.60,350.46 441.81,350.44 442.02,350.43 442.23,350.41 442.44,350.40 442.65,350.38 442.86,350.37 443.07,350.35 443.28,350.34 443.49,350.32 443.70,350.30 443.91,350.29 444.12,350.27 444.33,350.25 444.54,350.24 444.75,350.22 444.96,350.20 445.17,350.18 445.38,350.16 445.59,350.14 445.80,350.12 446.01,350.11 446.22,350.09 446.43,350.07 446.64,350.05 446.85,350.02 447.06,350.00 447.27,349.98 447.48,349.96 447.69,349.94 447.90,349.92 448.11,349.90 448.32,349.88 448.53,349.85 448.74,349.83 448.95,349.81 449.16,349.79 449.37,349.77 449.58,349.74 449.79,349.72 450.00,349.70 450.21,349.67 450.42,349.65 450.63,349.63 450.84,349.60 451.05,349.58 451.26,349.55 451.47,349.53 451.68,349.50 451.89,349.48 452.10,349.45 452.31,349.43 452.52,349.40 452.73,349.37 452.94,349.35 453.15,349.32 453.36,349.29 453.57,349.27 453.78,349.24 453.99,349.21 454.20,349.18 454.41,349.16 454.62,349.13 454.83,349.10 455.04,349.07 455.25,349.04 455.46,349.01 455.67,348.98 455.88,348.95 456.09,348.92 456.30,348.89 456.51,348.86 456.72,348.83 456.93,348.80 457.14,348.77 457.35,348.74 457.56,348.71 457.77,348.67 457.98,348.64 458.19,348.61 458.40,348.58 458.61,348.54 458.82,348.51 459.03,348.48 459.24,348.44 459.45,348.41 459.66,348.37 459.87,348.34 460.08,348.31 460.29,348.27 460.50,348.24 460.71,348.20 460.92,348.17 461.13,348.13 461.34,348.09 461.55,348.06 461.76,348.02 461.97,347.98 462.18,347.95 462.39,347.91 462.60,347.87 462.81,347.84 463.02,347.80 463.23,347.76 463.44,347.73 463.65,347.69 463.86,347.65 464.07,347.61 464.28,347.58 464.49,347.54 464.70,347.50 464.91,347.46 465.12,347.42 465.33,347.38 465.54,347.34 465.75,347.30 465.96,347.27 466.17,347.23 466.38,347.19 466.59,347.15 466.80,347.11 467.01,347.06 467.22,347.02 467.43,346.98 467.64,346.94 467.85,346.90 468.06,346.86 468.27,346.82 468.48,346.77 468.69,346.73 468.90,346.69 469.11,346.64 469.32,346.60 469.53,346.55 469.74,346.51 469.95,346.46 470.16,346.42 470.37,346.37 470.58,346.32 470.79,346.28 471.00,346.23 471.21,346.18 471.42,346.13 471.63,346.08 471.84,346.03 472.05,345.98 472.26,345.93 472.47,345.88 472.68,345.83 472.89,345.77 473.10,345.72 473.31,345.66 473.52,345.61 473.73,345.56 473.94,345.51 474.15,345.45 474.36,345.40 474.57,345.35 474.78,345.30 474.99,345.25 475.20,345.20 475.41,345.15 475.62,345.10 475.83,345.05 476.04,345.00 476.25,344.95 476.46,344.90 476.67,344.85 476.88,344.80 477.09,344.75 477.30,344.69 477.51,344.64 477.72,344.59 477.93,344.54 478.14,344.48 478.35,344.43 478.56,344.37 478.77,344.31 478.98,344.26 479.19,344.20 479.40,344.13 479.61,344.07 479.82,344.01 480.03,343.94 480.24,343.87 480.45,343.80 480.66,343.73 480.87,343.66 481.08,343.58 481.29,343.50 481.50,343.42 481.71,343.33 481.93,343.25 482.12,343.16 482.23,343.11 482.32,343.07 482.43,343.02 482.52,342.98 482.62,342.93 482.73,342.88 482.82,342.83 482.93,342.78 483.02,342.73 483.12,342.67 483.23,342.62 483.32,342.57 483.43,342.51 483.52,342.45 483.62,342.40 483.73,342.34 483.82,342.28 483.93,342.21 484.02,342.15 484.12,342.09 484.23,342.02 484.32,341.95 484.43,341.88 484.52,341.80 484.62,341.72 484.73,341.63 484.82,341.54 484.93,341.45 485.02,341.35 485.12,341.25 485.23,341.15 485.32,341.04 485.43,340.93 485.52,340.82 485.62,340.70 485.73,340.58 485.82,340.45 485.93,340.32 486.02,340.19 486.12,340.05 486.23,339.91 486.32,339.77 486.43,339.62 486.52,339.47 486.62,339.32 486.73,339.16 486.82,339.00 486.93,338.84 487.02,338.67 487.12,338.51 487.23,338.33 487.32,338.16 487.43,337.98 487.52,337.80 487.62,337.62 487.73,337.43 487.82,337.25 487.93,337.06 488.02,336.86 488.12,336.67 488.23,336.47 488.32,336.28 488.43,336.08 488.52,335.88 488.62,335.68 488.73,335.49 488.82,335.30 488.93,335.10 489.02,334.91 489.12,334.72 489.23,334.53 489.32,334.34 489.43,334.15 489.52,333.96 489.62,333.76 489.73,333.56 489.82,333.35 489.93,333.15 490.02,332.93 490.12,332.71 490.23,332.49 490.32,332.25 490.43,332.01 490.52,331.76 490.62,331.49 490.73,331.22 490.82,330.93 490.93,330.63 491.02,330.31 491.12,329.98 491.18,329.81 491.23,329.63 491.27,329.45 491.32,329.26 491.38,329.07 491.43,328.87 491.48,328.67 491.52,328.46 491.57,328.24 491.62,328.02 491.68,327.80 491.73,327.56 491.77,327.32 491.82,327.07 491.88,326.81 491.93,326.55 491.98,326.28 492.02,326.00 492.07,325.71 492.12,325.41 492.18,325.10 492.23,324.78 492.27,324.45 492.32,324.11 492.38,323.74 492.43,323.29 492.48,322.79 492.52,322.23 492.57,321.61 492.62,320.93 492.68,320.21 492.73,319.43 492.77,318.62 492.82,317.76 492.88,316.86 492.93,315.93 492.98,314.98 493.02,314.01 493.07,313.02 493.12,312.03 493.18,311.03 493.23,310.02 493.27,308.97 493.32,307.89 493.38,306.75 493.43,305.56 493.48,304.29 493.52,302.92 493.57,301.46 493.62,299.87 493.68,298.13 493.73,296.14 493.77,293.83 493.82,291.27 493.88,288.54 493.93,285.75 493.98,282.88 494.02,279.87 494.07,276.70 494.12,273.36 494.18,276.70 494.23,279.87 494.27,282.88 494.32,285.75 494.38,288.54 494.43,291.27 494.48,293.83 494.52,296.14 494.57,298.13 494.62,299.88 494.68,301.50 494.73,303.00 494.77,304.40 494.82,305.71 494.88,306.93 494.93,308.08 494.98,309.15 495.02,310.17 495.07,311.12 495.12,312.03 495.18,312.89 495.23,313.71 495.27,314.49 495.32,315.23 495.38,315.94 495.43,316.62 495.48,317.27 495.52,317.90 495.57,318.50 495.62,319.08 495.68,319.64 495.73,320.19 495.77,320.72 495.82,321.23 495.88,321.74 495.93,322.23 495.98,322.71 496.02,323.19 496.07,323.65 496.12,324.11 496.18,324.57 496.23,325.01 496.27,325.44 496.32,325.86 496.38,326.26 496.43,326.66 496.48,327.05 496.52,327.44 496.57,327.81 496.62,328.17 496.68,328.53 496.73,328.88 496.77,329.22 496.82,329.55 496.88,329.88 496.93,330.20 496.98,330.52 497.02,330.83 497.07,331.13 497.12,331.43 497.23,332.01 497.32,332.57 497.43,333.12 497.52,333.64 497.62,334.16 497.73,334.65 497.82,335.14 497.93,335.61 498.02,336.08 498.12,336.53 498.23,336.98 498.32,337.43 498.43,337.86 498.52,338.28 498.62,338.69 498.73,339.09 498.82,339.47 498.93,339.83 499.02,340.18 499.12,340.51 499.23,340.82 499.32,341.11 499.43,341.38 499.52,341.64 499.62,341.87 499.73,342.09 499.82,342.29 499.93,342.48 500.02,342.66 500.12,342.83 500.23,343.00 500.32,343.16 500.43,343.31 500.52,343.45 500.62,343.59 500.73,343.72 500.82,343.85 500.93,343.98 501.02,344.10 501.12,344.21 501.23,344.32 501.32,344.44 501.43,344.54 501.52,344.65 501.62,344.75 501.73,344.85 501.82,344.95 501.93,345.05 502.02,345.15 502.12,345.24 502.23,345.34 502.32,345.43 502.43,345.53 502.52,345.62 502.62,345.71 502.73,345.81 502.82,345.90 502.93,345.99 503.02,346.07 503.12,346.16 503.23,346.24 503.32,346.32 503.43,346.40 503.52,346.48 503.62,346.56 503.73,346.63 503.82,346.71 503.93,346.78 504.02,346.85 504.12,346.92 504.23,346.99 504.32,347.06 504.43,347.13 504.52,347.19 504.62,347.25 504.73,347.32 504.82,347.38 504.93,347.44 505.02,347.50 505.12,347.56 505.23,347.62 505.32,347.68 505.43,347.73 505.52,347.79 505.62,347.84 505.73,347.90 505.82,347.95 505.93,348.00 506.02,348.06 506.12,348.11 506.32,348.21 506.41,348.25 506.50,348.30 506.59,348.34 506.68,348.38 506.77,348.42 506.86,348.46 506.95,348.50 507.04,348.55 507.13,348.59 507.22,348.63 507.31,348.66 507.40,348.70 507.49,348.74 507.58,348.78 507.67,348.82 507.76,348.86 507.85,348.89 507.94,348.93 508.02,348.97 508.11,349.00 508.20,349.04 508.29,349.07 508.38,349.11 508.47,349.14 508.56,349.17 508.65,349.21 508.74,349.24 508.83,349.27 508.92,349.30 509.01,349.33 509.10,349.36 509.19,349.39 509.28,349.42 509.37,349.45 509.46,349.48 509.55,349.51 509.63,349.54 509.72,349.56 509.81,349.59 509.90,349.62 509.99,349.64 510.08,349.67 510.17,349.69 510.26,349.72 510.35,349.74 510.44,349.76 510.53,349.79 510.62,349.81 510.71,349.83 510.80,349.85 510.89,349.88 510.98,349.90 511.07,349.92 511.16,349.94 511.24,349.96 511.33,349.98 511.42,349.99 511.51,350.01 511.60,350.03 511.69,350.05 511.78,350.06 511.87,350.08 511.96,350.10 512.05,350.11 512.14,350.13 512.23,350.14 512.32,350.16 512.41,350.17 512.50,350.19 512.59,350.20 512.68,350.22 512.77,350.23 512.85,350.24 512.94,350.26 513.03,350.27 513.12,350.28 513.21,350.29 513.30,350.30 513.39,350.31 513.48,350.33 513.57,350.34 513.66,350.35 513.75,350.36 513.84,350.37 513.93,350.38 514.02,350.38 514.11,350.39 514.20,350.40 514.29,350.41 514.38,350.42 514.46,350.43 514.55,350.44 514.64,350.45 514.73,350.45 514.82,350.46 514.91,350.47 515.00,350.48 515.09,350.48 515.18,350.49 515.27,350.50 515.36,350.51 515.45,350.51 515.54,350.52 515.63,350.53 515.72,350.53 515.81,350.54 515.90,350.55 515.99,350.55 516.07,350.56 516.16,350.56 516.25,350.57 516.34,350.58 516.43,350.58 516.52,350.59 516.61,350.59 516.70,350.60 516.79,350.61 516.88,350.61 516.97,350.62 517.06,350.62 517.15,350.63 517.24,350.63 517.33,350.64 517.42,350.64 517.51,350.65 517.60,350.65 517.68,350.66 517.77,350.66 517.86,350.66 517.95,350.67 518.04,350.67 518.13,350.68 518.22,350.68 518.31,350.69 518.40,350.69 518.49,350.69 518.58,350.70 518.67,350.70 518.76,350.71 518.85,350.71 518.94,350.71 519.03,350.72 519.12,350.72 519.21,350.72 519.29,350.73 519.38,350.73 519.47,350.73 519.56,350.74 519.65,350.74 519.74,350.74 519.83,350.75 519.92,350.75 520.01,350.75 520.10,350.76 520.19,350.76 520.28,350.76 520.37,350.76 520.46,350.77 520.55,350.77 520.64,350.77 520.73,350.77 520.82,350.78 520.90,350.78 520.99,350.78 521.08,350.78 521.17,350.79 521.26,350.79 521.35,350.79 521.44,350.79 521.53,350.80 521.62,350.80 521.71,350.80 521.80,350.80 521.89,350.81 521.98,350.81 522.07,350.81 522.16,350.81 522.25,350.81 522.34,350.82 522.43,350.82 522.51,350.82 522.60,350.82 522.69,350.82 522.78,350.83 522.87,350.83 522.96,350.83 523.05,350.83 523.14,350.83 523.23,350.83 523.32,350.84 523.41,350.84 523.50,350.84 523.59,350.84 523.68,350.84 523.77,350.84 523.86,350.84 523.95,350.85 524.04,350.85 524.12,350.85" stroke="#bf5f00" stroke-width="1.8"/>
<polyline points="591.10,52.98 591.05,59.91 591.00,66.93 590.95,73.99 590.90,81.09 590.85,88.20 590.80,95.30 590.75,102.37 590.70,109.39 590.65,116.36 590.60,123.25 590.55,130.05 590.50,136.75 590.45,143.33 590.40,149.80 590.35,156.35 590.30,163.09 590.25,169.86 590.20,176.52 590.15,182.95 590.10,189.06 590.05,194.75 590.00,199.95 589.95,204.79 589.90,209.40 589.85,213.75 589.80,217.82 589.75,221.59 589.70,225.02 589.65,228.21 589.60,231.24 589.55,234.12 589.50,236.84 589.45,239.42 589.40,241.84 589.35,244.12 589.30,246.25 589.25,248.25 589.20,250.10 589.15,251.84 589.10,253.49 589.05,255.07 589.00,256.58 588.95,258.02 588.90,259.40 588.85,260.73 588.80,262.01 588.75,263.24 588.70,264.43 588.65,265.58 588.60,266.70 588.55,267.79 588.50,268.86 588.45,269.90 588.40,270.92 588.35,271.92 588.30,272.92 588.25,273.90 588.20,274.87 588.15,275.83 588.10,276.79 588.00,278.65 587.90,280.45 587.80,282.21 587.70,283.90 587.60,285.54 587.50,287.12 587.40,288.63 587.30,290.09 587.20,291.49 587.10,292.83 587.00,294.11 586.90,295.33 586.80,296.50 586.70,297.60 586.60,298.64 586.50,299.62 586.40,300.55 586.30,301.43 586.20,302.29 586.10,303.12 586.00,303.93 585.90,304.71 585.80,305.47 585.70,306.21 585.60,306.93 585.50,307.62 585.40,308.30 585.30,308.96 585.20,309.60 585.10,310.23 585.00,310.84 584.90,311.43 584.80,312.00 584.70,312.57 584.60,313.11 584.50,313.65 584.40,314.17 584.30,314.68 584.20,315.17 584.10,315.65 584.00,316.13 583.90,316.59 583.80,317.04 583.70,317.48 583.60,317.91 583.50,318.33 583.40,318.74 583.30,319.14 583.20,319.54 583.10,319.92 583.00,320.30 582.90,320.67 582.80,321.04 582.70,321.39 582.60,321.74 582.50,322.09 582.40,322.42 582.30,322.75 582.20,323.08 582.10,323.40 582.00,323.71 581.90,324.02 581.80,324.32 581.70,324.62 581.60,324.92 581.50,325.21 581.40,325.49 581.30,325.77 581.20,326.05 581.10,326.32 581.00,326.59 580.90,326.85 580.80,327.11 580.70,327.36 580.60,327.61 580.50,327.85 580.40,328.09 580.30,328.32 580.20,328.55 580.10,328.78 580.00,329.00 579.90,329.22 579.80,329.44 579.70,329.65 579.60,329.86 579.50,330.06 579.40,330.26 579.30,330.46 579.20,330.66 579.10,330.85 578.90,331.22 578.41,332.10 577.92,332.92 577.43,333.68 576.93,334.41 576.44,335.09 575.95,335.74 575.46,336.37 574.97,336.97 574.48,337.54 573.99,338.10 573.49,338.65 573.00,339.16 572.51,339.65 572.02,340.11 571.53,340.56 571.04,340.98 570.55,341.38 570.05,341.76 569.56,342.13 569.07,342.48 568.58,342.82 568.09,343.14 567.60,343.45 567.11,343.75 566.61,344.03 566.12,344.31 565.63,344.57 565.14,344.83 564.65,345.08 564.16,345.31 563.66,345.54 563.17,345.77 562.68,345.98 562.19,346.19 561.70,346.39 561.21,346.58 560.72,346.77 560.22,346.95 559.73,347.12 559.24,347.28 558.75,347.44 558.26,347.60 557.77,347.74 557.28,347.88 556.78,348.02 556.29,348.15 555.80,348.27 555.31,348.38 554.82,348.50 554.33,348.60 553.84,348.70 553.34,348.80 552.85,348.89 552.36,348.98 551.87,349.06 551.38,349.14 550.89,349.22 550.40,349.29 549.90,349.36 549.41,349.43 548.92,349.49 548.43,349.56 547.94,349.62 547.45,349.67 546.96,349.73 546.46,349.78 545.97,349.83 545.48,349.88 544.99,349.93 544.50,349.97 544.01,350.01 543.52,350.06 543.02,350.09 542.53,350.13 542.04,350.17 541.55,350.20 541.06,350.23 540.57,350.26 540.07,350.29 539.58,350.32 539.09,350.35 538.60,350.37 538.11,350.40 537.62,350.42 537.13,350.44 536.63,350.46 536.14,350.48 535.65,350.50 535.16,350.52 534.67,350.54 534.18,350.55 533.69,350.57 533.19,350.58 532.70,350.60 532.21,350.61 531.72,350.62 531.23,350.63 530.74,350.65 530.25,350.66 529.75,350.67 529.26,350.68 528.77,350.69 528.28,350.70 527.79,350.71 527.30,350.71 526.81,350.72 526.31,350.73 525.82,350.74 525.33,350.75 524.84,350.76 524.35,350.76 523.86,350.77 523.37,350.78 522.87,350.78 522.38,350.79 521.89,350.80 521.40,350.80 520.91,350.81 520.42,350.81 519.93,350.82 519.43,350.82 518.94,350.83 518.45,350.83 517.96,350.84 517.47,350.84 516.98,350.85 516.48,350.85 515.99,350.86 515.50,350.86 515.01,350.86 514.52,350.87 514.03,350.87 513.54,350.87 513.04,350.88 512.55,350.88 512.06,350.88 511.57,350.89 511.08,350.89 510.59,350.89 510.10,350.90 509.60,350.90 509.11,350.90 508.62,350.90 508.13,350.91 507.64,350.91 507.15,350.91 506.66,350.91 506.16,350.92 505.67,350.92 505.18,350.92 504.69,350.92 504.20,350.92 503.71,350.93 503.22,350.93 502.72,350.93 502.23,350.93 501.74,350.93 501.25,350.93 500.76,350.94 500.27,350.94 499.78,350.94 499.28,350.94 498.79,350.94 498.30,350.94 497.81,350.94 497.32,350.95 496.83,350.95 496.34,350.95 495.84,350.95 495.35,350.95 494.86,350.95 494.37,350.95 493.88,350.95 493.39,350.95 492.89,350.95 492.40,350.96 491.91,350.96 491.42,350.96 490.93,350.96 490.44,350.96 489.95,350.96 489.45,350.96 488.96,350.96 488.47,350.96 487.98,350.96 487.49,350.96 487.00,350.96 486.51,350.96 486.01,350.96 485.52,350.97 485.03,350.97 484.54,350.97 484.05,350.97 483.56,350.97 483.07,350.97 482.57,350.97 482.08,350.97 481.59,350.97 481.10,350.97" stroke="#aa0000" stroke-width="1.8" stroke-dasharray="12.3,8.4" stroke-dashoffset="5.9"/>
<polyline points="591.10,52.98 591.15,59.91 591.20,66.93 591.25,73.99 591.30,81.09 591.35,88.20 591.40,95.30 591.45,102.37 591.50,109.39 591.55,116.36 591.60,123.25 591.65,130.05 591.70,136.75 591.75,143.33 591.80,149.80 591.85,156.35 591.90,163.09 591.95,169.86 592.00,176.52 592.05,182.95 592.10,189.06 592.15,194.75 592.20,199.95 592.25,204.79 592.30,209.40 592.35,213.75 592.40,217.82 592.45,221.59 592.50,225.02 592.55,228.21 592.60,231.24 592.65,234.12 592.70,236.84 592.75,239.42 592.80,241.84 592.85,244.12 592.90,246.25 592.95,248.25 593.00,250.10 593.05,251.84 593.10,253.49 593.15,255.07 593.20,256.58 593.25,258.02 593.30,259.40 593.35,260.73 593.40,262.01 593.45,263.24 593.50,264.43 593.55,265.58 593.60,266.70 593.65,267.79 593.70,268.86 593.75,269.90 593.80,270.92 593.85,271.92 593.90,272.92 593.95,273.90 594.00,274.87 594.05,275.83 594.10,276.79 594.20,278.65 594.30,280.45 594.40,282.21 594.50,283.90 594.60,285.54 594.70,287.12 594.80,288.63 594.90,290.09 595.00,291.49 595.10,292.83 595.20,294.11 595.30,295.33 595.40,296.50 595.50,297.60 595.60,298.64 595.70,299.62 595.80,300.55 595.90,301.43 596.00,302.29 596.10,303.12 596.20,303.93 596.30,304.71 596.40,305.47 596.50,306.21 596.60,306.93 596.70,307.62 596.80,308.30 596.90,308.96 597.00,309.60 597.10,310.23 597.20,310.84 597.30,311.43 597.40,312.00 597.50,312.57 597.60,313.11 597.70,313.65 597.80,314.17 597.90,314.68 598.00,315.17 598.10,315.65 598.20,316.13 598.30,316.59 598.40,317.04 598.50,317.48 598.60,317.91 598.70,318.33 598.80,318.74 598.90,319.14 599.00,319.54 599.10,319.92 599.20,320.30 599.30,320.67 599.40,321.04 599.50,321.39 599.60,321.74 599.70,322.09 599.80,322.42 599.90,322.75 600.00,323.08 600.10,323.40 600.20,323.71 600.30,324.02 600.40,324.32 600.50,324.62 600.60,324.92 600.70,325.21 600.80,325.49 600.90,325.77 601.00,326.05 601.10,326.32 601.20,326.59 601.30,326.85 601.40,327.11 601.50,327.36 601.60,327.61 601.70,327.85 601.80,328.09 601.90,328.32 602.00,328.55 602.10,328.78 602.20,329.00 602.30,329.22 602.40,329.44 602.50,329.65 602.60,329.86 602.70,330.06 602.80,330.26 602.90,330.46 603.00,330.66 603.10,330.85 603.30,331.22 603.79,332.10 604.28,332.92 604.77,333.68 605.27,334.41 605.76,335.09 606.25,335.74 606.74,336.37 607.23,336.97 607.72,337.54 608.21,338.10 608.71,338.65 609.20,339.16 609.69,339.65 610.18,340.11 610.67,340.56 611.16,340.98 611.65,341.38 612.15,341.76 612.64,342.13 613.13,342.48 613.62,342.82 614.11,343.14 614.60,343.45 615.09,343.75 615.59,344.03 616.08,344.31 616.57,344.57 617.06,344.83 617.55,345.08 618.04,345.31 618.54,345.54 619.03,345.77 619.52,345.98 620.01,346.19 620.50,346.39 620.99,346.58 621.48,346.77 621.98,346.95 622.47,347.12 622.96,347.28 623.45,347.44 623.94,347.60 624.43,347.74 624.92,347.88 625.42,348.02 625.91,348.15 626.40,348.27 626.89,348.38 627.38,348.50 627.87,348.60 628.36,348.70 628.86,348.80 629.35,348.89 629.84,348.98 630.33,349.06 630.82,349.14 631.31,349.22 631.80,349.29 632.30,349.36 632.79,349.43 633.28,349.49 633.77,349.56 634.26,349.62 634.75,349.67 635.24,349.73 635.74,349.78 636.23,349.83 636.72,349.88 637.21,349.93 637.70,349.97 638.19,350.01 638.68,350.06 639.18,350.09 639.67,350.13 640.16,350.17 640.65,350.20 641.14,350.23 641.63,350.26 642.13,350.29 642.62,350.32 643.11,350.35 643.60,350.37 644.09,350.40 644.58,350.42 645.07,350.44 645.57,350.46 646.06,350.48 646.55,350.50 647.04,350.52 647.53,350.54 648.02,350.55 648.51,350.57 649.01,350.58 649.50,350.60 649.99,350.61 650.48,350.62 650.97,350.63 651.46,350.65 651.95,350.66 652.45,350.67 652.94,350.68 653.43,350.69 653.92,350.70 654.41,350.71 654.90,350.71 655.39,350.72 655.89,350.73 656.38,350.74 656.87,350.75 657.36,350.76 657.85,350.76 658.34,350.77 658.83,350.78 659.33,350.78 659.82,350.79 660.31,350.80 660.80,350.80 661.29,350.81 661.78,350.81 662.27,350.82 662.77,350.82 663.26,350.83 663.75,350.83 664.24,350.84 664.73,350.84 665.22,350.85 665.72,350.85 666.21,350.86 666.70,350.86 667.19,350.86 667.68,350.87 668.17,350.87 668.66,350.87 669.16,350.88 669.65,350.88 670.14,350.88 670.63,350.89 671.12,350.89 671.61,350.89 672.10,350.90 672.60,350.90 673.09,350.90 673.58,350.90 674.07,350.91 674.56,350.91 675.05,350.91 675.54,350.91 676.04,350.92 676.53,350.92 677.02,350.92 677.51,350.92 678.00,350.92 678.49,350.93 678.98,350.93 679.48,350.93 679.97,350.93 680.46,350.93 680.95,350.93 681.44,350.94 681.93,350.94 682.42,350.94 682.92,350.94 683.41,350.94 683.90,350.94 684.39,350.94 684.88,350.95 685.37,350.95 685.86,350.95 686.36,350.95 686.85,350.95 687.34,350.95 687.83,350.95 688.32,350.95 688.81,350.95 689.31,350.95 689.80,350.96 690.29,350.96 690.78,350.96 691.27,350.96 691.76,350.96 692.25,350.96 692.75,350.96 693.24,350.96 693.73,350.96 694.22,350.96 694.71,350.96 695.20,350.96 695.69,350.96 696.19,350.96 696.68,350.97 697.17,350.97 697.66,350.97 698.15,350.97 698.64,350.97 699.13,350.97 699.63,350.97 700.12,350.97 700.61,350.97 701.10,350.97" stroke="#aa0000" stroke-width="1.8" stroke-dasharray="12.6,8.6" stroke-dashoffset="6.2"/>
<polyline points="571.10,350.94 571.14,350.94 571.18,350.94 571.22,350.94 571.26,350.94 571.30,350.94 571.34,350.94 571.37,350.94 571.41,350.94 571.45,350.94 571.49,350.94 571.53,350.94 571.57,350.94 571.61,350.93 571.65,350.93 571.69,350.93 571.73,350.93 571.77,350.93 571.81,350.93 571.84,350.93 571.88,350.93 571.92,350.93 571.96,350.93 572.00,350.93 572.04,350.93 572.08,350.93 572.12,350.93 572.16,350.93 572.20,350.93 572.24,350.93 572.28,350.93 572.32,350.93 572.35,350.93 572.39,350.93 572.43,350.93 572.47,350.93 572.51,350.93 572.55,350.92 572.59,350.92 572.63,350.92 572.67,350.92 572.71,350.92 572.75,350.92 572.79,350.92 572.82,350.92 572.86,350.92 572.90,350.92 572.94,350.92 572.98,350.92 573.02,350.92 573.06,350.92 573.10,350.92 573.14,350.92 573.18,350.92 573.22,350.92 573.26,350.92 573.29,350.92 573.33,350.92 573.37,350.91 573.41,350.91 573.45,350.91 573.49,350.91 573.53,350.91 573.57,350.91 573.61,350.91 573.65,350.91 573.69,350.91 573.73,350.91 573.77,350.91 573.80,350.91 573.84,350.91 573.88,350.91 573.92,350.91 573.96,350.91 574.00,350.91 574.04,350.91 574.08,350.91 574.12,350.90 574.16,350.90 574.20,350.90 574.24,350.90 574.27,350.90 574.31,350.90 574.35,350.90 574.39,350.90 574.43,350.90 574.47,350.90 574.51,350.90 574.55,350.90 574.59,350.90 574.63,350.90 574.67,350.90 574.71,350.90 574.75,350.89 574.78,350.89 574.82,350.89 574.86,350.89 574.90,350.89 574.94,350.89 574.98,350.89 575.02,350.89 575.06,350.89 575.10,350.89 575.14,350.89 575.18,350.89 575.22,350.89 575.25,350.89 575.29,350.88 575.33,350.88 575.37,350.88 575.41,350.88 575.45,350.88 575.49,350.88 575.53,350.88 575.57,350.88 575.61,350.88 575.65,350.88 575.69,350.88 575.73,350.88 575.76,350.88 575.80,350.88 575.84,350.87 575.88,350.87 575.92,350.87 575.96,350.87 576.00,350.87 576.04,350.87 576.08,350.87 576.12,350.87 576.16,350.87 576.20,350.87 576.23,350.87 576.27,350.87 576.31,350.86 576.35,350.86 576.39,350.86 576.43,350.86 576.47,350.86 576.51,350.86 576.55,350.86 576.59,350.86 576.63,350.86 576.67,350.86 576.71,350.86 576.74,350.85 576.78,350.85 576.82,350.85 576.86,350.85 576.90,350.85 576.94,350.85 576.98,350.85 577.02,350.85 577.06,350.85 577.10,350.85 577.14,350.85 577.18,350.84 577.21,350.84 577.25,350.84 577.29,350.84 577.33,350.84 577.37,350.84 577.41,350.84 577.45,350.84 577.49,350.84 577.53,350.83 577.57,350.83 577.61,350.83 577.65,350.83 577.68,350.83 577.72,350.83 577.76,350.83 577.80,350.83 577.84,350.83 577.88,350.82 577.92,350.82 577.96,350.82 578.00,350.82 578.04,350.82 578.08,350.82 578.12,350.82 578.16,350.82 578.19,350.82 578.23,350.81 578.27,350.81 578.31,350.81 578.35,350.81 578.39,350.81 578.43,350.81 578.47,350.81 578.51,350.81 578.55,350.80 578.59,350.80 578.63,350.80 578.66,350.80 578.70,350.80 578.74,350.80 578.78,350.80 578.82,350.79 578.86,350.79 578.90,350.79 579.10,350.79 579.20,350.78 579.30,350.78 579.40,350.77 579.50,350.77 579.60,350.77 579.70,350.76 579.80,350.76 579.90,350.75 580.00,350.75 580.10,350.75 580.20,350.74 580.30,350.74 580.40,350.73 580.50,350.73 580.60,350.72 580.70,350.72 580.80,350.71 580.90,350.71 581.00,350.70 581.10,350.70 581.20,350.69 581.30,350.69 581.40,350.68 581.50,350.68 581.60,350.67 581.70,350.67 581.80,350.66 581.90,350.65 582.00,350.65 582.10,350.64 582.20,350.64 582.30,350.63 582.40,350.62 582.50,350.62 582.60,350.61 582.70,350.60 582.80,350.60 582.90,350.59 583.00,350.58 583.10,350.58 583.20,350.57 583.30,350.56 583.40,350.55 583.50,350.55 583.60,350.54 583.70,350.53 583.80,350.52 583.90,350.51 584.00,350.51 584.10,350.50 584.20,350.49 584.30,350.48 584.40,350.47 584.50,350.46 584.60,350.45 584.70,350.44 584.80,350.43 584.90,350.42 585.00,350.41 585.10,350.40 585.20,350.39 585.30,350.38 585.40,350.36 585.50,350.35 585.60,350.34 585.70,350.33 585.80,350.31 585.90,350.30 586.00,350.28 586.10,350.27 586.20,350.25 586.30,350.24 586.40,350.22 586.50,350.21 586.60,350.19 586.70,350.17 586.80,350.15 586.90,350.13 587.00,350.11 587.10,350.09 587.20,350.07 587.30,350.05 587.40,350.03 587.50,350.01 587.60,349.98 587.70,349.96 587.80,349.93 587.90,349.90 588.00,349.88 588.10,349.85 588.15,349.83 588.20,349.82 588.25,349.80 588.30,349.78 588.35,349.77 588.40,349.75 588.45,349.73 588.50,349.72 588.55,349.70 588.60,349.68 588.65,349.66 588.70,349.64 588.75,349.62 588.80,349.60 588.85,349.58 588.90,349.56 588.95,349.54 589.00,349.51 589.05,349.49 589.10,349.47 589.15,349.44 589.20,349.42 589.25,349.39 589.30,349.36 589.35,349.34 589.40,349.31 589.45,349.28 589.50,349.25 589.55,349.22 589.60,349.19 589.65,349.15 589.70,349.12 589.75,349.08 589.80,349.05 589.85,349.01 589.90,348.97 589.95,348.93 590.00,348.88 590.05,348.84 590.10,348.79 590.15,348.74 590.20,348.69 590.25,348.63 590.30,348.58 590.35,348.52 590.40,348.46 590.45,348.40 590.50,348.34 590.55,348.27 590.60,348.20 590.65,348.13 590.70,348.06 590.75,347.98 590.80,347.90 590.85,347.82 590.90,347.74 590.95,347.65 591.00,347.56 591.05,347.47 591.10,347.37 591.15,347.47 591.20,347.56 591.25,347.65 591.30,347.74 591.35,347.82 591.40,347.90 591.45,347.98 591.50,348.06 591.55,348.13 591.60,348.20 591.65,348.27 591.70,348.34 591.75,348.40 591.80,348.46 591.85,348.52 591.90,348.58 591.95,348.63 592.00,348.69 592.05,348.74 592.10,348.79 592.15,348.84 592.20,348.88 592.25,348.93 592.30,348.97 592.35,349.01 592.40,349.05 592.45,349.08 592.50,349.12 592.55,349.15 592.60,349.19 592.65,349.22 592.70,349.25 592.75,349.28 592.80,349.31 592.85,349.34 592.90,349.36 592.95,349.39 593.00,349.42 593.05,349.44 593.10,349.47 593.15,349.49 593.20,349.51 593.25,349.54 593.30,349.56 593.35,349.58 593.40,349.60 593.45,349.62 593.50,349.64 593.55,349.66 593.60,349.68 593.65,349.70 593.70,349.72 593.75,349.73 593.80,349.75 593.85,349.77 593.90,349.78 593.95,349.80 594.00,349.82 594.05,349.83 594.10,349.85 594.20,349.88 594.30,349.90 594.40,349.93 594.50,349.96 594.60,349.98 594.70,350.01 594.80,350.03 594.90,350.05 595.00,350.07 595.10,350.09 595.20,350.11 595.30,350.13 595.40,350.15 595.50,350.17 595.60,350.19 595.70,350.21 595.80,350.22 595.90,350.24 596.00,350.25 596.10,350.27 596.20,350.28 596.30,350.30 596.40,350.31 596.50,350.33 596.60,350.34 596.70,350.35 596.80,350.36 596.90,350.38 597.00,350.39 597.10,350.40 597.20,350.41 597.30,350.42 597.40,350.43 597.50,350.44 597.60,350.45 597.70,350.46 597.80,350.47 597.90,350.48 598.00,350.49 598.10,350.50 598.20,350.51 598.30,350.51 598.40,350.52 598.50,350.53 598.60,350.54 598.70,350.55 598.80,350.55 598.90,350.56 599.00,350.57 599.10,350.58 599.20,350.58 599.30,350.59 599.40,350.60 599.50,350.60 599.60,350.61 599.70,350.62 599.80,350.62 599.90,350.63 600.00,350.64 600.10,350.64 600.20,350.65 600.30,350.65 600.40,350.66 600.50,350.67 600.60,350.67 600.70,350.68 600.80,350.68 600.90,350.69 601.00,350.69 601.10,350.70 601.20,350.70 601.30,350.71 601.40,350.71 601.50,350.72 601.60,350.72 601.70,350.73 601.80,350.73 601.90,350.74 602.00,350.74 602.10,350.75 602.20,350.75 602.30,350.75 602.40,350.76 602.50,350.76 602.60,350.77 602.70,350.77 602.80,350.77 602.90,350.78 603.00,350.78 603.10,350.79 603.30,350.79 603.34,350.79 603.38,350.79 603.42,350.80 603.46,350.80 603.50,350.80 603.54,350.80 603.57,350.80 603.61,350.80 603.65,350.80 603.69,350.81 603.73,350.81 603.77,350.81 603.81,350.81 603.85,350.81 603.89,350.81 603.93,350.81 603.97,350.81 604.01,350.82 604.04,350.82 604.08,350.82 604.12,350.82 604.16,350.82 604.20,350.82 604.24,350.82 604.28,350.82 604.32,350.82 604.36,350.83 604.40,350.83 604.44,350.83 604.48,350.83 604.52,350.83 604.55,350.83 604.59,350.83 604.63,350.83 604.67,350.83 604.71,350.84 604.75,350.84 604.79,350.84 604.83,350.84 604.87,350.84 604.91,350.84 604.95,350.84 604.99,350.84 605.02,350.84 605.06,350.85 605.10,350.85 605.14,350.85 605.18,350.85 605.22,350.85 605.26,350.85 605.30,350.85 605.34,350.85 605.38,350.85 605.42,350.85 605.46,350.85 605.49,350.86 605.53,350.86 605.57,350.86 605.61,350.86 605.65,350.86 605.69,350.86 605.73,350.86 605.77,350.86 605.81,350.86 605.85,350.86 605.89,350.86 605.93,350.87 605.97,350.87 606.00,350.87 606.04,350.87 606.08,350.87 606.12,350.87 606.16,350.87 606.20,350.87 606.24,350.87 606.28,350.87 606.32,350.87 606.36,350.87 606.40,350.88 606.44,350.88 606.47,350.88 606.51,350.88 606.55,350.88 606.59,350.88 606.63,350.88 606.67,350.88 606.71,350.88 606.75,350.88 606.79,350.88 606.83,350.88 606.87,350.88 606.91,350.88 606.95,350.89 606.98,350.89 607.02,350.89 607.06,350.89 607.10,350.89 607.14,350.89 607.18,350.89 607.22,350.89 607.26,350.89 607.30,350.89 607.34,350.89 607.38,350.89 607.42,350.89 607.45,350.89 607.49,350.90 607.53,350.90 607.57,350.90 607.61,350.90 607.65,350.90 607.69,350.90 607.73,350.90 607.77,350.90 607.81,350.90 607.85,350.90 607.89,350.90 607.93,350.90 607.96,350.90 608.00,350.90 608.04,350.90 608.08,350.90 608.12,350.91 608.16,350.91 608.20,350.91 608.24,350.91 608.28,350.91 608.32,350.91 608.36,350.91 608.40,350.91 608.43,350.91 608.47,350.91 608.51,350.91 608.55,350.91 608.59,350.91 608.63,350.91 608.67,350.91 608.71,350.91 608.75,350.91 608.79,350.91 608.83,350.91 608.87,350.92 608.91,350.92 608.94,350.92 608.98,350.92 609.02,350.92 609.06,350.92 609.10,350.92 609.14,350.92 609.18,350.92 609.22,350.92 609.26,350.92 609.30,350.92 609.34,350.92 609.38,350.92 609.41,350.92 609.45,350.92 609.49,350.92 609.53,350.92 609.57,350.92 609.61,350.92 609.65,350.92 609.69,350.93 609.73,350.93 609.77,350.93 609.81,350.93 609.85,350.93 609.88,350.93 609.92,350.93 609.96,350.93 610.00,350.93 610.04,350.93 610.08,350.93 610.12,350.93 610.16,350.93 610.20,350.93 610.24,350.93 610.28,350.93 610.32,350.93 610.36,350.93 610.39,350.93 610.43,350.93 610.47,350.93 610.51,350.93 610.55,350.93 610.59,350.93 610.63,350.94 610.67,350.94 610.71,350.94 610.75,350.94 610.79,350.94 610.83,350.94 610.86,350.94 610.90,350.94 610.94,350.94 610.98,350.94 611.02,350.94 611.06,350.94 611.10,350.94" stroke="#aa0000" stroke-width="1.8"/>
</g>
<g stroke="#000" stroke-width="1.75" fill="none">
<line x1="138.55" y1="17.7" x2="138.55" y2="351.8"/>
<line x1="137.75" y1="351.0" x2="785.85" y2="351.0"/>
<line x1="138.55" y1="351.00" x2="138.55" y2="347.20"/>
<line x1="170.88" y1="351.00" x2="170.88" y2="348.90"/>
<line x1="203.20" y1="351.00" x2="203.20" y2="348.90"/>
<line x1="235.53" y1="351.00" x2="235.53" y2="348.90"/>
<line x1="267.85" y1="351.00" x2="267.85" y2="347.20"/>
<line x1="300.18" y1="351.00" x2="300.18" y2="348.90"/>
<line x1="332.50" y1="351.00" x2="332.50" y2="348.90"/>
<line x1="364.82" y1="351.00" x2="364.82" y2="348.90"/>
<line x1="397.15" y1="351.00" x2="397.15" y2="347.20"/>
<line x1="429.48" y1="351.00" x2="429.48" y2="348.90"/>
<line x1="461.80" y1="351.00" x2="461.80" y2="348.90"/>
<line x1="494.12" y1="351.00" x2="494.12" y2="348.90"/>
<line x1="526.45" y1="351.00" x2="526.45" y2="347.20"/>
<line x1="558.77" y1="351.00" x2="558.77" y2="348.90"/>
<line x1="591.10" y1="351.00" x2="591.10" y2="348.90"/>
<line x1="623.42" y1="351.00" x2="623.42" y2="348.90"/>
<line x1="655.75" y1="351.00" x2="655.75" y2="347.20"/>
<line x1="688.08" y1="351.00" x2="688.08" y2="348.90"/>
<line x1="720.40" y1="351.00" x2="720.40" y2="348.90"/>
<line x1="752.72" y1="351.00" x2="752.72" y2="348.90"/>
<line x1="785.05" y1="351.00" x2="785.05" y2="347.20"/>
<line x1="138.55" y1="351.00" x2="142.45" y2="351.00"/>
<line x1="138.55" y1="335.89" x2="140.75" y2="335.89"/>
<line x1="138.55" y1="320.79" x2="140.75" y2="320.79"/>
<line x1="138.55" y1="305.69" x2="140.75" y2="305.69"/>
<line x1="138.55" y1="290.58" x2="142.45" y2="290.58"/>
<line x1="138.55" y1="275.48" x2="140.75" y2="275.48"/>
<line x1="138.55" y1="260.37" x2="140.75" y2="260.37"/>
<line x1="138.55" y1="245.26" x2="140.75" y2="245.26"/>
<line x1="138.55" y1="230.16" x2="142.45" y2="230.16"/>
<line x1="138.55" y1="215.06" x2="140.75" y2="215.06"/>
<line x1="138.55" y1="199.95" x2="140.75" y2="199.95"/>
<line x1="138.55" y1="184.84" x2="140.75" y2="184.84"/>
<line x1="138.55" y1="169.74" x2="142.45" y2="169.74"/>
<line x1="138.55" y1="154.63" x2="140.75" y2="154.63"/>
<line x1="138.55" y1="139.53" x2="140.75" y2="139.53"/>
<line x1="138.55" y1="124.43" x2="140.75" y2="124.43"/>
<line x1="138.55" y1="109.32" x2="142.45" y2="109.32"/>
<line x1="138.55" y1="94.21" x2="140.75" y2="94.21"/>
<line x1="138.55" y1="79.11" x2="140.75" y2="79.11"/>
<line x1="138.55" y1="64.00" x2="140.75" y2="64.00"/>
<line x1="138.55" y1="48.90" x2="142.45" y2="48.90"/>
<line x1="138.55" y1="33.80" x2="140.75" y2="33.80"/>
<line x1="138.55" y1="18.69" x2="140.75" y2="18.69"/>
</g>
<g font-size="29">
<text transform="translate(138.55,378) scale(1,1.06)" text-anchor="middle">0</text>
<text transform="translate(267.85,378) scale(1,1.06)" text-anchor="middle">200</text>
<text transform="translate(397.15,378) scale(1,1.06)" text-anchor="middle">400</text>
<text transform="translate(526.45,378) scale(1,1.06)" text-anchor="middle">600</text>
<text transform="translate(655.75,378) scale(1,1.06)" text-anchor="middle">800</text>
<text transform="translate(785.05,378) scale(1,1.06)" text-anchor="middle">1000</text>
<text transform="translate(131.3,359.30) scale(1,1.06)" text-anchor="end">0</text>
<text transform="translate(131.3,298.88) scale(1,1.06)" text-anchor="end">0.02</text>
<text transform="translate(131.3,238.46) scale(1,1.06)" text-anchor="end">0.04</text>
<text transform="translate(131.3,178.04) scale(1,1.06)" text-anchor="end">0.06</text>
<text transform="translate(131.3,117.62) scale(1,1.06)" text-anchor="end">0.08</text>
<text transform="translate(131.3,57.20) scale(1,1.06)" text-anchor="end">0.10</text>
</g>
<g font-size="22.75">
<text transform="translate(485.4,40.9) scale(1.0,1.025)">dissipation zone</text>
<text transform="translate(158.6,85) scale(1,1.04)">correlation</text>
<text transform="translate(158.6,113.1) scale(1,1.04)">function</text>
<text transform="translate(159.3,139.8) scale(1,1.04)" font-size="20.5">×</text><text transform="translate(171.0,140.2) scale(1,1.04)">0.1</text>
</g>
<use href="#cmx" x="454.7" y="405.5"/>
<!-- arrow -->
<line x1="669.0" y1="311.1" x2="603" y2="340.9" stroke="#000" stroke-width="1.7"/>
<polygon points="592.9,345.4 601.6,333.2 608.7,347.2" fill="#000"/>
<!-- y label -->
<g transform="translate(53.5,293.15) rotate(-90)">
<g stroke="#000" stroke-width="1.3" fill="none" stroke-linecap="butt">
<line x1="4.09" y1="-22.09" x2="4.09" y2="7.37"/>
<line x1="97.89" y1="-22.09" x2="97.89" y2="7.37"/>
<line x1="163.17" y1="-22.09" x2="163.17" y2="7.37"/>
<line x1="198.36" y1="-22.09" x2="198.36" y2="7.37"/>
<polyline points="75.51,-22.09 69.85,-7.37 75.51,7.37" stroke-linejoin="miter"/>
<polyline points="185.46,-22.09 191.12,-7.37 185.46,7.37" stroke-linejoin="miter"/>
<line x1="36.77" y1="-17.3" x2="51.76" y2="-17.3" stroke-width="1.1"/>
<path d="M134.66,-22.09 Q122.58,-7.37 134.66,7.37" stroke-width="1.5"/>
<path d="M149.39,-22.09 Q161.47,-7.37 149.39,7.37" stroke-width="1.5"/>
<path d="M108.24,-25.3 C113.13,-33.0 119.66,-21.5 124.56,-29.2" stroke-width="1.3"/>
</g>
<text transform="translate(9.18,0.00) scale(1.180,1)" font-size="30.40" font-style="italic" stroke="#fff" stroke-width="0.45">N</text>
<text transform="translate(53.78,-11.30) scale(1.200,1)" font-size="19.20" stroke="#fff" stroke-width="0.45">1</text>
<use href="#cmx" x="79.05" y="0"/>
<text transform="translate(103.47,0.00) scale(1.150,1)" font-size="30.10" font-style="italic" stroke="#fff" stroke-width="0.45">B</text>
<text transform="translate(136.98,0.00) scale(1.200,1)" font-size="29.00" font-style="italic" stroke="#fff" stroke-width="0.45">t</text>
<text transform="translate(167.26,0.00) scale(1.050,1)" font-size="28.00" stroke="#fff" stroke-width="0.45">v</text>
<text transform="translate(202.75,-11.30) scale(1.250,1)" font-size="19.20" stroke="#fff" stroke-width="0.45">2</text>
</g>
</svg>
</body></html>
